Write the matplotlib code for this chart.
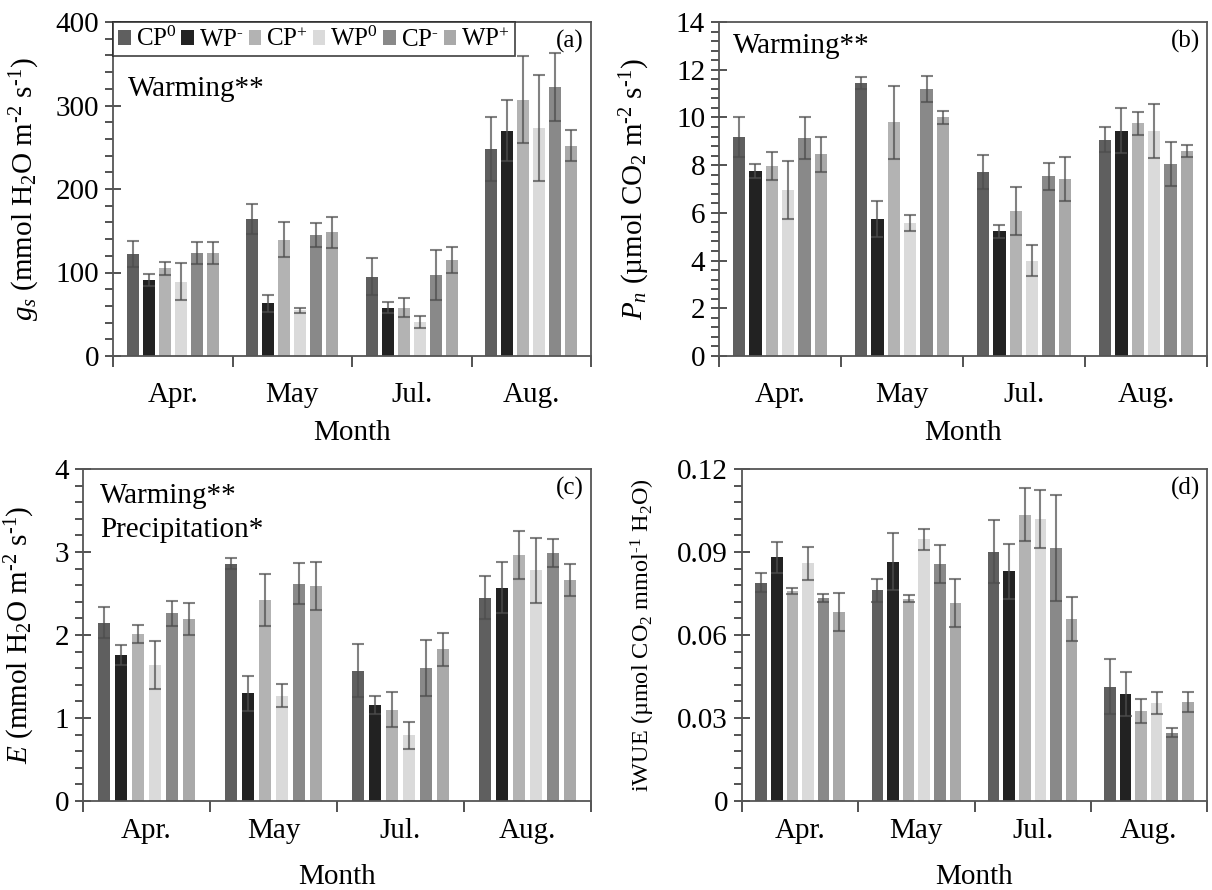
import numpy as np
import matplotlib
matplotlib.use('Agg')
import matplotlib.pyplot as plt
from matplotlib.patches import Patch
from matplotlib.ticker import MultipleLocator, FixedLocator, NullFormatter

plt.rcParams['font.family'] = ['Liberation Serif', 'DejaVu Serif']
plt.rcParams['mathtext.fontset'] = 'custom'
plt.rcParams['mathtext.rm'] = 'Liberation Serif'
plt.rcParams['mathtext.it'] = 'Liberation Serif:italic'
plt.rcParams['font.size'] = 21

months = ['Apr.', 'May', 'Jul.', 'Aug.']
treatments = ['CP$^0$', 'WP$^{\\text{-}}$', 'CP$^{\\text{+}}$', 'WP$^0$',
              'CP$^{\\text{-}}$', 'WP$^{\\text{+}}$']
colors = ['#5f5f5f', '#222222', '#b3b3b3', '#dadada', '#898989', '#a9a9a9']

# rows = months, columns = treatments (CP0, WP-, CP+, WP0, CP-, WP+)
gs = [[122, 91, 105, 89, 123, 123],
      [164, 63, 139, 55, 145, 148],
      [95, 58, 58, 41, 97, 115],
      [248, 270, 307, 273, 322, 252]]
gs_se = [[16, 7, 8, 22, 13, 13],
         [18, 10, 21, 3, 14, 19],
         [22, 7, 11, 7, 30, 16],
         [38, 37, 52, 63, 41, 19]]

pn = [[9.19, 7.76, 7.97, 6.97, 9.14, 8.46],
      [11.43, 5.74, 9.79, 5.58, 11.19, 10.0],
      [7.71, 5.23, 6.07, 4.0, 7.53, 7.41],
      [9.07, 9.44, 9.76, 9.44, 8.05, 8.6]]
pn_se = [[0.84, 0.28, 0.59, 1.21, 0.87, 0.74],
         [0.25, 0.75, 1.54, 0.35, 0.55, 0.27],
         [0.72, 0.28, 1.01, 0.64, 0.56, 0.92],
         [0.54, 0.94, 0.48, 1.12, 0.91, 0.25]]

tr = [[2.15, 1.76, 2.01, 1.64, 2.26, 2.19],
      [2.86, 1.30, 2.42, 1.27, 2.62, 2.59],
      [1.57, 1.16, 1.10, 0.79, 1.60, 1.83],
      [2.45, 2.57, 2.96, 2.78, 2.99, 2.66]]
tr_se = [[0.19, 0.12, 0.11, 0.29, 0.15, 0.19],
         [0.07, 0.21, 0.31, 0.14, 0.25, 0.29],
         [0.32, 0.11, 0.21, 0.16, 0.34, 0.20],
         [0.26, 0.31, 0.29, 0.39, 0.17, 0.19]]

iwue = [[0.0789, 0.0881, 0.0760, 0.0859, 0.0733, 0.0683],
        [0.0761, 0.0865, 0.0731, 0.0946, 0.0857, 0.0716],
        [0.0901, 0.0830, 0.1035, 0.1020, 0.0914, 0.0658],
        [0.0413, 0.0387, 0.0325, 0.0354, 0.0247, 0.0359]]
iwue_se = [[0.0034, 0.0056, 0.0011, 0.0059, 0.0015, 0.0070],
           [0.0043, 0.0102, 0.0012, 0.0037, 0.0068, 0.0088],
           [0.0113, 0.0099, 0.0095, 0.0104, 0.0192, 0.0081],
           [0.0100, 0.0080, 0.0044, 0.0039, 0.0016, 0.0036]]

W, H = 1212, 890
fig = plt.figure(figsize=(W / 100, H / 100), dpi=100)


def box(l, r, t, b):
    return [l / W, 1 - b / H, (r - l) / W, (b - t) / H]


def panel(ax, vals, errs, ymax, major, minor, ylabel, tag, xpad, lpad):
    vals = np.array(vals)
    errs = np.array(errs)
    x = np.arange(len(months)) + 0.5
    pitch, width = 0.134, 0.10
    for i in range(len(treatments)):
        pos = x + (i - 2.5) * pitch
        ax.bar(pos, vals[:, i], width, color=colors[i], zorder=2)
        ax.errorbar(pos, vals[:, i], yerr=errs[:, i], fmt='none',
                    ecolor=(0.3, 0.3, 0.3, 0.7), elinewidth=1.5,
                    capsize=4, capthick=1.5, zorder=3)
    ax.set_xlim(0, len(months))
    ax.set_ylim(0, ymax)
    ax.xaxis.set_major_locator(FixedLocator(np.arange(len(months) + 1)))
    ax.xaxis.set_major_formatter(NullFormatter())
    ax.xaxis.set_minor_locator(FixedLocator(x))
    ax.set_xticklabels(months, minor=True)
    ax.tick_params(axis='x', which='major', direction='out', length=8,
                   width=1.3, color='#444444')
    ax.tick_params(axis='x', which='minor', length=0, pad=xpad)
    ax.yaxis.set_major_locator(MultipleLocator(major))
    ax.yaxis.set_minor_locator(MultipleLocator(minor))
    ax.tick_params(axis='y', which='major', direction='inout', length=12,
                   width=1.3, color='#444444', pad=4)
    ax.tick_params(axis='y', which='minor', direction='out', length=6,
                   width=1.3, color='#444444')
    for s in ax.spines.values():
        s.set_color('#555555')
        s.set_linewidth(1.3)
    ax.set_ylabel(ylabel)
    ax.set_xlabel('Month', labelpad=lpad)
    ax.text(0.985, 0.975, tag, transform=ax.transAxes, ha='right', va='top',
            fontsize=18)


ax_a = fig.add_axes(box(113, 591, 22, 356))
ax_b = fig.add_axes(box(719, 1207, 22, 356))
ax_c = fig.add_axes(box(83, 591, 469, 801))
ax_d = fig.add_axes(box(742, 1207, 469, 801))

panel(ax_a, gs, gs_se, 400, 100, 20,
      '$g_s$ (mmol H$_2$O m$^{\\text{-}2}$ s$^{\\text{-}1}$)', '(a)', 19, 8)
panel(ax_b, pn, pn_se, 14, 2, 0.4,
      '$P_n$ (µmol CO$_2$ m$^{\\text{-}2}$ s$^{\\text{-}1}$)', '(b)', 19, 8)
panel(ax_c, tr, tr_se, 4, 1, 0.2,
      '$E$ (mmol H$_2$O m$^{\\text{-}2}$ s$^{\\text{-}1}$)', '(c)', 12, 15)
panel(ax_d, iwue, iwue_se, 0.12, 0.03, 0.006,
      'iWUE (µmol CO$_2$ mmol$^{\\text{-}1}$ H$_2$O)', '(d)', 12, 15)
ax_d.yaxis.set_major_formatter(plt.FuncFormatter(
    lambda v, p: '0' if abs(v) < 1e-9 else f'{v:.2f}'))

ax_a.yaxis.set_label_coords(-0.149, 0.5)
ax_b.yaxis.set_label_coords(-0.137, 0.5)
ax_c.yaxis.set_label_coords(-0.09, 0.5)
ax_d.yaxis.set_label_coords(-0.183, 0.5)
ax_d.yaxis.label.set_fontsize(17.5)

ax_a.text(0.031, 0.80, 'Warming**', transform=ax_a.transAxes, va='center')
ax_b.text(0.029, 0.928, 'Warming**', transform=ax_b.transAxes, va='center')
ax_c.text(0.033, 0.92, 'Warming**', transform=ax_c.transAxes, va='center')
ax_c.text(0.033, 0.815, 'Precipitation*', transform=ax_c.transAxes,
          va='center')

handles = [Patch(facecolor=c) for c in colors]
leg = ax_a.legend(handles, treatments, ncol=6, loc='upper left',
                  bbox_to_anchor=(0, 1), borderaxespad=0, frameon=True,
                  fancybox=False, edgecolor='#222222', handlelength=0.5,
                  handleheight=0.5, handletextpad=0.2, columnspacing=0.2,
                  borderpad=0.2, fontsize=18)
leg.get_frame().set_linewidth(1.3)

fig.savefig('out.png', dpi=100)
